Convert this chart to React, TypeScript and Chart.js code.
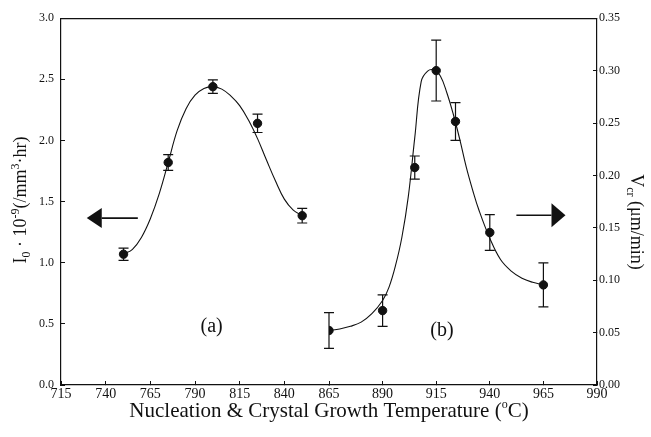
import React, { useEffect, useRef } from 'react';
import { Chart, registerables } from 'chart.js';

Chart.register(...registerables);

const SERIF = '"Liberation Serif", "Times New Roman", serif';
const INK = '#111111';

// (a) Nucleation rate I0 · 10^-9 (/mm³·hr) — left axis
const tempA = [750, 775, 800, 825, 850];
const rateA = [1.07, 1.82, 2.44, 2.14, 1.385];
const errA = [0.05, 0.065, 0.055, 0.075, 0.06];
const fitTempA = [750, 755, 760, 765, 770, 775, 780, 785, 790, 795, 800, 805, 810, 815, 820, 825, 830, 835, 840, 845, 850];
const fitRateA = [1.07, 1.11, 1.207, 1.36, 1.565, 1.82, 2.08, 2.26, 2.37, 2.425, 2.44, 2.42, 2.365, 2.285, 2.165, 2.015, 1.84, 1.67, 1.52, 1.43, 1.385];

// (b) Crystal growth rate Vcr (μm/min) — right axis
const tempB = [865, 890, 905, 915, 924, 940, 965];
const speedB = [0.052, 0.071, 0.2075, 0.3, 0.2515, 0.1455, 0.0955];
const errB = [0.017, 0.015, 0.011, 0.029, 0.018, 0.017, 0.021];
const fitTempB = [865, 870, 875, 880, 885, 890, 893, 896, 899, 902, 905, 908, 911, 914, 917, 920, 923, 926, 929, 932, 935, 940, 945, 950, 955, 960, 965];
const fitSpeedB = [0.052, 0.0535, 0.056, 0.06, 0.068, 0.0806, 0.0934, 0.1138, 0.141, 0.18, 0.236, 0.2895, 0.2995, 0.3005, 0.2947, 0.2786, 0.2581, 0.2343, 0.2081, 0.186, 0.1665, 0.14, 0.1197, 0.1087, 0.1019, 0.098, 0.0955];

// Axis ranges and tick steps
const rangeA = [715, 865];
const rangeB = [865, 990];
const tempStep = 25;
const rateRange = [0, 3.0];
const rateStep = 0.5;
const speedRange = [0, 0.35];
const speedStep = 0.05;

type Seg = { t: string; size: number; dy: number };

function drawRich(ctx: CanvasRenderingContext2D, segs: Seg[], cx: number, cy: number, rot: number, base: number) {
  ctx.save();
  ctx.translate(cx, cy);
  ctx.rotate(rot);
  ctx.fillStyle = INK;
  ctx.textAlign = 'left';
  ctx.textBaseline = 'alphabetic';
  const widths = segs.map((s) => {
    ctx.font = `${s.size}px ${SERIF}`;
    return ctx.measureText(s.t).width;
  });
  const total = widths.reduce((a, b) => a + b, 0);
  let x = -total / 2;
  segs.forEach((s, i) => {
    ctx.font = `${s.size}px ${SERIF}`;
    ctx.fillText(s.t, x, base * 0.35 + s.dy);
    x += widths[i];
  });
  ctx.restore();
}

function drawArrow(ctx: CanvasRenderingContext2D, x0: number, x1: number, y: number, headLen: number, headHalf: number) {
  const dir = Math.sign(x1 - x0);
  ctx.save();
  ctx.strokeStyle = INK;
  ctx.fillStyle = INK;
  ctx.lineWidth = 1.6;
  ctx.beginPath();
  ctx.moveTo(x0, y);
  ctx.lineTo(x1 - dir * headLen, y);
  ctx.stroke();
  ctx.beginPath();
  ctx.moveTo(x1, y);
  ctx.lineTo(x1 - dir * headLen, y - headHalf);
  ctx.lineTo(x1 - dir * headLen, y + headHalf);
  ctx.closePath();
  ctx.fill();
  ctx.restore();
}

const whiteBg = {
  id: 'whiteBg',
  beforeDraw(chart: any) {
    const { ctx, width, height } = chart;
    ctx.save();
    ctx.fillStyle = '#ffffff';
    ctx.fillRect(0, 0, width, height);
    ctx.restore();
  },
};

const errorBars = {
  id: 'errorBars',
  afterDatasetsDraw(chart: any) {
    const { ctx, scales } = chart;
    const groups = [
      { xs: tempA, ys: rateA, es: errA, sx: scales.xa, sy: scales.yl },
      { xs: tempB, ys: speedB, es: errB, sx: scales.xb, sy: scales.yr },
    ];
    ctx.save();
    ctx.strokeStyle = INK;
    ctx.lineWidth = 1.2;
    for (const g of groups) {
      g.xs.forEach((xv, i) => {
        const px = g.sx.getPixelForValue(xv);
        const top = g.sy.getPixelForValue(g.ys[i] + g.es[i]);
        const bot = g.sy.getPixelForValue(g.ys[i] - g.es[i]);
        ctx.beginPath();
        ctx.moveTo(px, top);
        ctx.lineTo(px, bot);
        ctx.moveTo(px - 5, top);
        ctx.lineTo(px + 5, top);
        ctx.moveTo(px - 5, bot);
        ctx.lineTo(px + 5, bot);
        ctx.stroke();
      });
    }
    ctx.restore();
  },
};

const decorations = {
  id: 'decorations',
  afterDraw(chart: any) {
    const { ctx, chartArea, scales } = chart;
    const { xa, xb, yl, yr } = scales;

    // top frame line
    ctx.save();
    ctx.strokeStyle = INK;
    ctx.lineWidth = 1.2;
    ctx.beginPath();
    ctx.moveTo(chartArea.left, chartArea.top + 0.5);
    ctx.lineTo(chartArea.right, chartArea.top + 0.5);
    ctx.stroke();
    ctx.restore();

    // arrows pointing to each curve's axis
    drawArrow(ctx, xa.getPixelForValue(758), xa.getPixelForValue(729.4), yl.getPixelForValue(1.365), 15, 10);
    drawArrow(ctx, xb.getPixelForValue(952.4), xb.getPixelForValue(975.3), yr.getPixelForValue(0.162), 14, 12);

    // panel labels
    ctx.save();
    ctx.fillStyle = INK;
    ctx.font = `20px ${SERIF}`;
    ctx.textAlign = 'center';
    ctx.textBaseline = 'middle';
    ctx.fillText('(a)', xa.getPixelForValue(799.3), yl.getPixelForValue(0.473));
    ctx.fillText('(b)', xb.getPixelForValue(917.7), yr.getPixelForValue(0.052));
    ctx.restore();

    // axis titles
    drawRich(
      ctx,
      [
        { t: 'Nucleation & Crystal Growth Temperature (', size: 21, dy: 0 },
        { t: 'o', size: 12, dy: -9 },
        { t: 'C)', size: 21, dy: 0 },
      ],
      (chartArea.left + chartArea.right) / 2,
      410,
      0,
      21
    );
    drawRich(
      ctx,
      [
        { t: 'I', size: 18, dy: 0 },
        { t: '0', size: 12, dy: 4 },
        { t: ' \u00B7 10', size: 18, dy: 0 },
        { t: '-9', size: 12, dy: -7 },
        { t: '(/mm', size: 18, dy: 0 },
        { t: '3', size: 12, dy: -7 },
        { t: '\u00B7hr)', size: 18, dy: 0 },
      ],
      20,
      200,
      -Math.PI / 2,
      18
    );
    drawRich(
      ctx,
      [
        { t: 'V', size: 18, dy: 0 },
        { t: 'cr', size: 12, dy: 4 },
        { t: ' (\u03BCm/min)', size: 18, dy: 0 },
      ],
      637,
      222,
      Math.PI / 2,
      18
    );
  },
};

export default function App() {
  const canvasRef = useRef<HTMLCanvasElement | null>(null);

  useEffect(() => {
    const canvas = canvasRef.current;
    if (!canvas) return;

    const tickGrid = {
      drawOnChartArea: false,
      drawTicks: true,
      tickLength: -4,
      tickWidth: 1,
      tickColor: INK,
    };
    const border = { display: true, color: INK, width: 1.2 };

    const chart = new Chart(canvas, {
      type: 'scatter',
      data: {
        datasets: [
          {
            label: 'fit a',
            data: fitTempA.map((x, i) => ({ x, y: fitRateA[i] })),
            xAxisID: 'xa',
            yAxisID: 'yl',
            showLine: true,
            borderColor: INK,
            borderWidth: 1.1,
            pointRadius: 0,
            tension: 0.4,
          },
          {
            label: 'I0',
            data: tempA.map((x, i) => ({ x, y: rateA[i] })),
            xAxisID: 'xa',
            yAxisID: 'yl',
            showLine: false,
            pointRadius: 4.2,
            pointBackgroundColor: INK,
            pointBorderColor: INK,
          },
          {
            label: 'fit b',
            data: fitTempB.map((x, i) => ({ x, y: fitSpeedB[i] })),
            xAxisID: 'xb',
            yAxisID: 'yr',
            showLine: true,
            borderColor: INK,
            borderWidth: 1.1,
            pointRadius: 0,
            tension: 0.4,
          },
          {
            label: 'Vcr',
            data: tempB.map((x, i) => ({ x, y: speedB[i] })),
            xAxisID: 'xb',
            yAxisID: 'yr',
            showLine: false,
            pointRadius: 4.2,
            pointBackgroundColor: INK,
            pointBorderColor: INK,
          },
        ],
      },
      options: {
        animation: false,
        responsive: false,
        devicePixelRatio: 1,
        layout: { padding: { top: 15, left: 0, right: 0, bottom: 0 } },
        plugins: { legend: { display: false }, tooltip: { enabled: false } },
        scales: {
          xa: {
            type: 'linear',
            position: 'bottom',
            stack: 'temp',
            stackWeight: 1,
            min: rangeA[0],
            max: rangeA[1],
            grid: tickGrid,
            border,
            afterFit: (s: any) => { s.height = 52; },
            ticks: {
              stepSize: tempStep,
              autoSkip: false,
              maxRotation: 0,
              padding: 5,
              color: INK,
              font: { family: SERIF, size: 14 },
              callback: (v: any) => (v === rangeA[1] ? '' : String(v)),
            },
          },
          xb: {
            type: 'linear',
            position: 'bottom',
            stack: 'temp',
            stackWeight: 1,
            min: rangeB[0],
            max: rangeB[1],
            grid: tickGrid,
            border,
            afterFit: (s: any) => { s.height = 52; },
            ticks: {
              stepSize: tempStep,
              autoSkip: false,
              maxRotation: 0,
              padding: 5,
              color: INK,
              font: { family: SERIF, size: 14 },
              callback: (v: any) => String(v),
            },
          },
          yl: {
            type: 'linear',
            position: 'left',
            min: rateRange[0],
            max: rateRange[1],
            grid: tickGrid,
            border,
            afterFit: (s: any) => { s.width = 61; },
            ticks: {
              stepSize: rateStep,
              padding: 11,
              color: INK,
              font: { family: SERIF, size: 12 },
              callback: (v: any) => Number(v).toFixed(1),
            },
          },
          yr: {
            type: 'linear',
            position: 'right',
            min: speedRange[0],
            max: speedRange[1],
            grid: tickGrid,
            border,
            afterFit: (s: any) => { s.width = 54; },
            ticks: {
              stepSize: speedStep,
              padding: 6,
              color: INK,
              font: { family: SERIF, size: 12 },
              callback: (v: any) => Number(v).toFixed(2),
            },
          },
        },
      } as any,
      plugins: [whiteBg, errorBars, decorations],
    });

    return () => chart.destroy();
  }, []);

  return (
    <div style={{ position: 'fixed', left: 0, top: 0, width: 651, height: 437, background: '#fff' }}>
      <canvas ref={canvasRef} width={651} height={437} style={{ width: 651, height: 437, display: 'block' }} />
    </div>
  );
}
